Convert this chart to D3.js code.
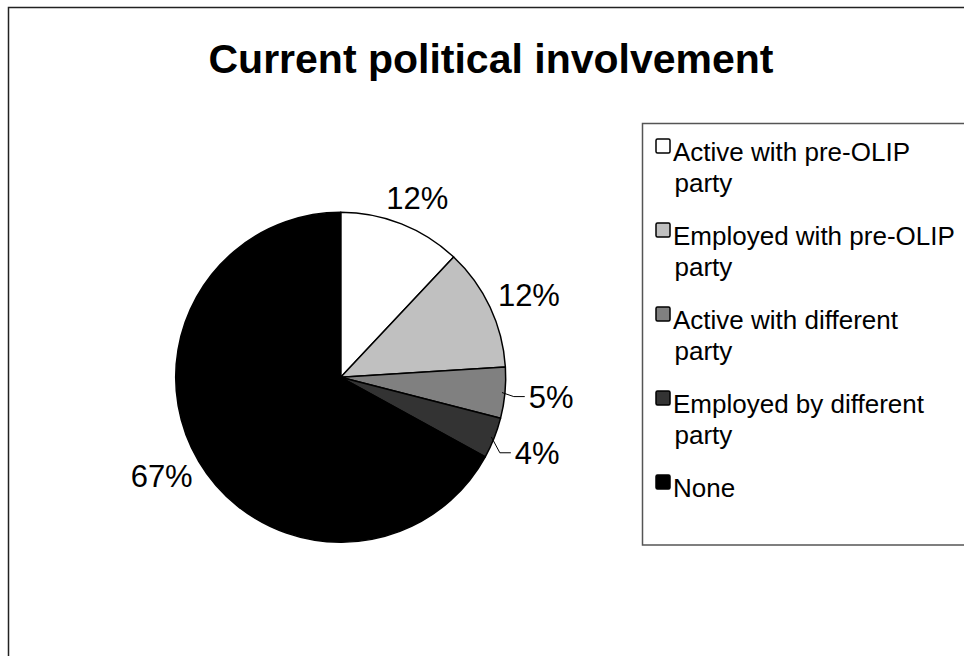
<!DOCTYPE html>
<html>
<head>
<meta charset="utf-8">
<script src="https://cdn.jsdelivr.net/npm/d3@7/dist/d3.min.js"></script>
<style>
  html, body { margin: 0; padding: 0; background: #fff; }
  svg { display: block; font-family: "Liberation Sans", Arial, sans-serif; }
</style>
</head>
<body>
<svg id="chart" width="964" height="656"></svg>
<script>
// Survey answers: current political involvement (share of respondents, %)
const categories = [
  "Active with pre-OLIP party",
  "Employed with pre-OLIP party",
  "Active with different party",
  "Employed by different party",
  "None"
];
const shares = [12, 12, 5, 4, 67];
const sliceColors = ["#ffffff", "#c0c0c0", "#808080", "#333333", "#000000"];
const titleText = "Current political involvement";

const data = categories.map((c, i) => ({ name: c, value: shares[i], color: sliceColors[i] }));

const svg = d3.select("#chart");
const W = 964, H = 656;

// chart area frame (runs off the right and bottom edges)
svg.append("rect")
  .attr("x", 8.5).attr("y", 7.5)
  .attr("width", W + 20).attr("height", H + 20)
  .attr("fill", "#fff").attr("stroke", "#222").attr("stroke-width", 1.5);

// title
svg.append("text")
  .attr("x", 491).attr("y", 73)
  .attr("text-anchor", "middle")
  .attr("font-size", 41).attr("font-weight", "bold")
  .attr("fill", "#000")
  .text(titleText);

// pie
const cx = 340.7, cy = 377.3, r = 165;
const pie = d3.pie().value(d => d.value).sort(null);
const arc = d3.arc().innerRadius(0).outerRadius(r);
const arcs = pie(data);

const g = svg.append("g").attr("transform", `translate(${cx},${cy})`);
g.selectAll("path.slice")
  .data(arcs)
  .join("path")
  .attr("class", "slice")
  .attr("d", arc)
  .attr("fill", d => d.data.color)
  .attr("stroke", "#000")
  .attr("stroke-width", 1.5)
  .attr("stroke-linejoin", "round");

// percentage labels: the label box sits just outside the rim along the mid angle;
// thin slices get pushed further out and a leader line
const labelSize = 31;
const mid = d => (d.startAngle + d.endAngle) / 2;
const labels = arcs.map(d => {
  const a = mid(d);
  const text = d.data.value + "%";
  const w = (text.length - 1) * 0.556 * labelSize + 0.889 * labelSize;
  const hw = w / 2, hh = 16;
  const thin = d.data.value < 6;
  const gap = thin ? 24 : 12;
  const x = Math.sin(a) * (r + gap + hw);
  const y = -Math.cos(a) * (r + gap + hh);
  return { d, a, text, x, y, w, thin };
});

g.selectAll("text.pct")
  .data(labels)
  .join("text")
  .attr("class", "pct")
  .attr("x", l => l.x)
  .attr("y", l => l.y)
  .attr("dy", "0.36em")
  .attr("text-anchor", "middle")
  .attr("font-size", labelSize)
  .attr("fill", "#000")
  .text(l => l.text);

g.selectAll("path.leader")
  .data(labels.filter(l => l.thin))
  .join("path")
  .attr("class", "leader")
  .attr("d", l => {
    const sx = Math.sin(l.a) * (r - 3), sy = -Math.cos(l.a) * (r - 3);
    const ex = l.x - l.w / 2 - 4;
    return d3.line()([[sx, sy], [ex - 11, l.y], [ex, l.y]]);
  })
  .attr("fill", "none")
  .attr("stroke", "#000")
  .attr("stroke-width", 1);

// legend
const legX = 642.5, legY = 123.5;
svg.append("rect")
  .attr("x", legX).attr("y", legY)
  .attr("width", W - legX + 20).attr("height", 545 - legY)
  .attr("fill", "#fff").attr("stroke", "#555").attr("stroke-width", 1.5);

const rowPitch = 84, lineGap = 31, firstBase = 161;
const legend = svg.append("g");
const rows = legend.selectAll("g.item")
  .data(data)
  .join("g")
  .attr("class", "item")
  .attr("transform", (d, i) => `translate(0,${firstBase + i * rowPitch})`);

rows.append("rect")
  .attr("x", 656).attr("y", -22)
  .attr("width", 14).attr("height", 14)
  .attr("rx", 1.5)
  .attr("fill", d => d.color)
  .attr("stroke", "#000").attr("stroke-width", 1.5);

// wrap legend labels onto two lines when they run long
function wrapLines(name) {
  const idx = name.lastIndexOf(" ");
  if (name.length > 12 && idx > 0) return [name.slice(0, idx), name.slice(idx + 1)];
  return [name];
}
rows.append("text")
  .attr("font-size", 26)
  .attr("fill", "#000")
  .selectAll("tspan")
  .data(d => wrapLines(d.name))
  .join("tspan")
  .attr("x", (t, i) => i === 0 ? 673 : 674.5)
  .attr("dy", (t, i) => i === 0 ? 0 : lineGap)
  .text(t => t);
</script>
</body>
</html>
